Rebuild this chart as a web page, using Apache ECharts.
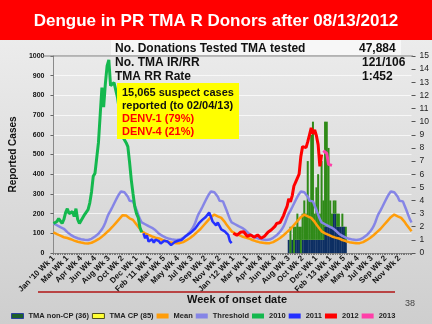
<!DOCTYPE html>
<html>
<head>
<meta charset="utf-8">
<script src="https://cdn.jsdelivr.net/npm/echarts@6/dist/echarts.min.js"></script>
<style>
  html, body { margin: 0; padding: 0; }
  #mains { width: 432px; height: 324px; }
</style>
</head>
<body>
<div id="mains"></div>
<script>
var weekTickLabels = [
  "Jan '10 Wk 1", "Mar Wk 1", "Apr Wk 4", "Jun Wk 4", "Aug Wk 3", "Oct Wk 2", "Dec Wk 1",
  "Feb '11 Wk 1", "Mar Wk 5", "May Wk 4", "Jul Wk 3", "Sep Wk 2", "Nov Wk 2",
  "Jan '12 Wk 1", "Mar Wk 1", "Apr Wk 4", "Jun Wk 4", "Aug Wk 3", "Oct Wk 2", "Dec Wk 1",
  "Feb '13 Wk 1", "Mar Wk 5", "May Wk 4", "Jul Wk 3", "Sep Wk 2", "Nov Wk 2"
];
var years = ["2010", "2011", "2012", "2013"];
var weeksPerYear = 52;

// historical mean / threshold by week of year (same curve every year)
var meanByWeek = [
  105, 100, 96, 92, 88, 84, 80, 78, 76, 74, 70, 66, 63, 60, 57, 55, 53, 52, 50, 49,
  48, 50, 52, 55, 60, 65, 70, 76, 83, 90, 98, 106, 114, 122, 132, 142, 152, 162, 172, 182,
  192, 195, 190, 186, 176, 178, 168, 158, 145, 135, 122, 110
];
var thresholdByWeek = [
  150, 146, 141, 136, 131, 128, 123, 115, 106, 98, 92, 87, 82, 78, 75, 72, 70, 68, 67, 66,
  66, 68, 72, 77, 84, 90, 98, 108, 120, 135, 155, 180, 200, 215, 232, 250, 268, 285, 300, 312,
  305, 308, 300, 285, 265, 270, 262, 240, 218, 195, 172, 155
];

var cases2010 = [
  150, 145, 160, 175, 185, 150, 170, 205, 225, 200, 195, 210, 185, 225, 170, 150, 165, 180, 195, 205,
  220, 255, 310, 390, 405, 410, 560, 700, 840, 740, 860, 950, 980, 850, 855, 865, 860, 790, 730, 640,
  590, 575, 560, 540, 460, 370, 300, 235, 200, 180, 130, 105
];
var cases2011 = [
  100, 75, 90, 58, 62, 70, 52, 68, 78, 60, 48, 58, 62, 55, 58, 50, 40, 48, 55, 52,
  62, 68, 66, 75, 82, 85, 95, 102, 108, 118, 125, 130, 150, 155, 168, 172, 183, 190, 205, 185,
  160, 150, 140, 155, 148, 120, 118, 110, 100, 92, 60, 50
];
var cases2012 = [
  100, 95, 90, 92, 105, 115, 108, 100, 85, 80, 92, 88, 80, 85, 92, 85, 75, 80, 85, 95,
  105, 112, 118, 128, 135, 150, 148, 155, 165, 190, 215, 235, 275, 260, 290, 340, 360, 380, 400, 490,
  540, 545, 535, 565, 600, 635, 605, 625, 595, 550, 440, 500
];
var cases2013 = [520, 530, 505, 450, 460, 445];

// TMA reactive donors per week, starting 2012 week 33
var tmaFirstWeek2012 = 33;
var tmaNonCP = [1, 0, 1, 0, 1, 1, 1, 0, 1, 1, 1, 1, 1, 1, 1, 1, 1, 1, 1, 1, 1, 2, 2, 2, 2, 2, 3, 3, 2, 2, 2, 2, 2, 1];
var tmaCP = [0, 2, 0, 2, 1, 2, 1, 2, 2, 3, 2, 6, 3, 8, 9, 2, 4, 5, 2, 6, 3, 8, 8, 6, 2, 1, 1, 1, 1, 1, 0, 1, 0, 1];

var categories = [];
years.forEach(function (y) {
  for (var w = 1; w <= weeksPerYear; w++) categories.push(y + " Wk " + w);
});

function place(values, start) {
  var out = categories.map(function () { return null; });
  values.forEach(function (v, k) { out[start + k] = v; });
  return out;
}
function yearStart(y) {
  return years.indexOf(y) * weeksPerYear;
}

var meanAll = meanByWeek.concat(meanByWeek, meanByWeek, meanByWeek);
var thresholdAll = thresholdByWeek.concat(thresholdByWeek, thresholdByWeek, thresholdByWeek);
var tmaStart = yearStart("2012") + tmaFirstWeek2012 - 1;

var font = "'Liberation Sans', Arial, sans-serif";

var myCharts = echarts.init(document.getElementById("mains"));

function lineSeries(name, color, data, width) {
  return {
    name: name,
    type: "line",
    color: color,
    symbol: "none",
    data: data,
    z: 3,
    lineStyle: { color: color, width: width || 2.5 },
    itemStyle: { color: color },
  };
}

function textAt(x, y, text, fontSpec, fill) {
  return {
    type: "text", z: 11, x: x, y: y,
    style: { text: text, fill: fill || "#111", font: fontSpec + " " + font, textVerticalAlign: "middle", verticalAlign: "middle" },
  };
}

option = {
  animation: false,
  backgroundColor: new echarts.graphic.LinearGradient(0, 0, 0, 1, [
    { offset: 0, color: "#f0f0f0" },
    { offset: 1, color: "#cecece" },
  ]),
  textStyle: { fontFamily: font },
  grid: { left: 43, right: 20, top: 56, bottom: 71 },
  legend: {
    left: 6,
    top: 307,
    itemWidth: 12,
    itemHeight: 5,
    itemGap: 3,
    textStyle: { fontSize: 7.5, fontWeight: "bold", color: "#222", fontFamily: font },
    data: [
      { name: "TMA non-CP (36)", icon: "rect", itemStyle: { color: "#1d5e2a", borderColor: "#2b3f9e", borderWidth: 1 } },
      { name: "TMA CP (85)", icon: "rect", itemStyle: { color: "#ffff33", borderColor: "#4d4d1a", borderWidth: 1 } },
      { name: "Mean", icon: "rect" },
      { name: "Threshold", icon: "rect" },
      { name: "2010", icon: "rect" },
      { name: "2011", icon: "rect" },
      { name: "2012", icon: "rect" },
      { name: "2013", icon: "rect" },
    ],
  },
  xAxis: {
    type: "category",
    boundaryGap: false,
    data: categories,
    axisLine: { lineStyle: { color: "#8a8a8a", width: 1 } },
    axisTick: { show: true, interval: 0, length: 2, lineStyle: { color: "#777" } },
    axisLabel: {
      interval: 7,
      rotate: 45,
      margin: 4,
      fontSize: 8,
      fontWeight: "bold",
      color: "#111",
      fontFamily: font,
      formatter: function (value, index) {
        return weekTickLabels[index / 8];
      },
    },
    splitLine: { show: false },
  },
  yAxis: [
    {
      type: "value",
      min: 0,
      max: 1000,
      interval: 100,
      name: "Reported Cases",
      nameLocation: "middle",
      nameGap: 27,
      nameTextStyle: { fontSize: 10, fontWeight: "bold", color: "#111", fontFamily: font },
      axisLine: { show: true, lineStyle: { color: "#8a8a8a" } },
      axisTick: { show: true, length: 3, lineStyle: { color: "#666" } },
      axisLabel: {
        fontSize: 7, fontWeight: "bold", color: "#111", margin: 9, fontFamily: font,
        formatter: function (v) { return String(v); },
      },
      splitLine: { show: true, lineStyle: { color: "rgba(255,255,255,0.7)", width: 1 } },
    },
    {
      type: "value",
      min: 0,
      max: 15,
      interval: 1,
      position: "right",
      axisLine: { show: false },
      axisTick: { show: true, length: 4, lineStyle: { color: "#555" } },
      axisLabel: { fontSize: 8.5, color: "#222", margin: 8, fontFamily: font },
      splitLine: { show: false },
    },
  ],
  series: [
    {
      name: "TMA non-CP (36)",
      type: "bar",
      yAxisIndex: 1,
      stack: "tma",
      barWidth: 2,
      z: 1,
      data: place(tmaNonCP, tmaStart),
      itemStyle: { color: "#0d2f63" },
    },
    {
      name: "TMA CP (85)",
      type: "bar",
      yAxisIndex: 1,
      stack: "tma",
      barWidth: 2,
      z: 1,
      data: place(tmaCP, tmaStart),
      itemStyle: { color: "#2f8a18" },
    },
    lineSeries("Mean", "#ff9d0a", meanAll, 2.5),
    lineSeries("Threshold", "#8585e6", thresholdAll, 2.5),
    lineSeries("2010", "#14b84e", place(cases2010, yearStart("2010")), 3),
    lineSeries("2011", "#2430ff", place(cases2011, yearStart("2011")), 2.5),
    lineSeries("2012", "#ff0000", place(cases2012, yearStart("2012")), 3),
    lineSeries("2013", "#ff3fa8", place(cases2013, yearStart("2013")), 3),
  ],
  graphic: [
    { type: "line", z: 5, shape: { x1: 43, y1: 56, x2: 413, y2: 56 }, style: { stroke: "#7d7d7d", lineWidth: 1 } },
    { type: "rect", z: 10, shape: { x: 0, y: 0, width: 432, height: 40 }, style: { fill: "#ff0000" } },
    {
      type: "text", z: 11, x: 216, y: 21,
      style: { text: "Dengue in PR TMA R Donors after 08/13/2012", fill: "#ffffff", font: "bold 17px " + font,
        textAlign: "center", textVerticalAlign: "middle", align: "center", verticalAlign: "middle" },
    },
    { type: "rect", z: 10, shape: { x: 111, y: 40, width: 290, height: 15 }, style: { fill: "#f7f7f7" } },
    textAt(115, 49, "No. Donations Tested TMA tested", "bold 12px"),
    textAt(359, 49, "47,884", "bold 12px"),
    textAt(115, 63, "No. TMA IR/RR", "bold 12px"),
    textAt(362, 63, "121/106", "bold 12px"),
    textAt(115, 77, "TMA RR Rate", "bold 12px"),
    textAt(362, 77, "1:452", "bold 12px"),
    { type: "rect", z: 10, shape: { x: 117, y: 83, width: 122, height: 56 }, style: { fill: "#ffff00" } },
    textAt(122, 93, "15,065 suspect cases", "bold 11px"),
    textAt(122, 106, "reported (to 02/04/13)", "bold 11px"),
    textAt(122, 119, "DENV-1 (79%)", "bold 11px", "#ff0000"),
    textAt(122, 132, "DENV-4 (21%)", "bold 11px", "#ff0000"),
    { type: "line", z: 5, shape: { x1: 38, y1: 292, x2: 395, y2: 292 }, style: { stroke: "#b01515", lineWidth: 1.5 } },
    {
      type: "text", z: 11, x: 237, y: 300,
      style: { text: "Week of onset date", fill: "#111", font: "bold 11px " + font,
        textAlign: "center", textVerticalAlign: "middle", align: "center", verticalAlign: "middle" },
    },
    textAt(405, 304, "38", "9px", "#444"),
  ],
};
myCharts.setOption(option);
</script>
</body>
</html>
